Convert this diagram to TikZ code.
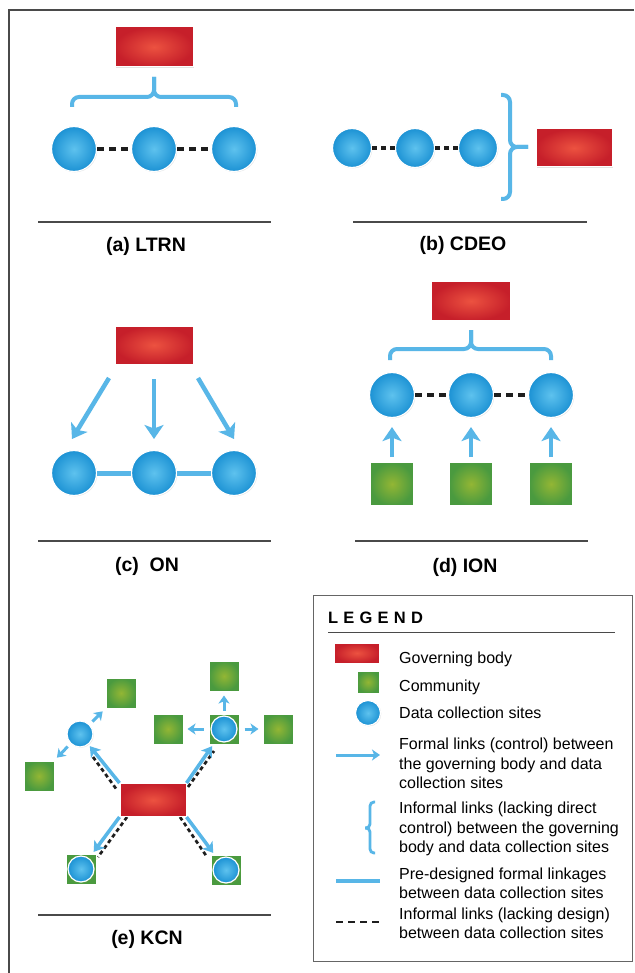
\documentclass[tikz,border=0pt]{standalone}
\usepackage{fontspec}
\setmainfont{Liberation Sans}
\usetikzlibrary{arrows.meta,shadows,calc}
\definecolor{redc}{HTML}{EC5240}
\definecolor{rede}{HTML}{C61F2A}
\definecolor{bluec}{HTML}{5EC2EE}
\definecolor{bluee}{HTML}{1C92D4}
\definecolor{greenc}{HTML}{93B634}
\definecolor{greene}{HTML}{4A9A3F}
\definecolor{linkblue}{HTML}{58B6E7}
\definecolor{rulegray}{HTML}{4A4A4A}
\definecolor{dashblack}{HTML}{1E1E1E}
\tikzset{
  shd/.style={drop shadow={opacity=0.22, shadow xshift=0.8pt, shadow yshift=-0.8pt}},
  gov/.style={rectangle, inner sep=0pt, draw=white, line width=1pt, shading=radial,
              inner color=redc, outer color=rede, shd},
  site/.style={circle, inner sep=0pt, draw=white, line width=1.2pt, shading=radial,
              inner color=bluec, outer color=bluee, minimum size=45pt, shd},
  comm/.style={rectangle, inner sep=0pt, draw=white, line width=1pt, shading=radial,
              inner color=greenc, outer color=greene, minimum size=43pt, shd},
  brc/.style={draw=linkblue, line width=4pt, rounded corners=7pt},
  idash/.style={draw=dashblack, line width=4pt, dash pattern=on 7pt off 5pt},
  idashs/.style={draw=dashblack, line width=3.5pt, dash pattern=on 5pt off 4pt},
  idashe/.style={draw=dashblack, line width=2.7pt, dash pattern=on 4pt off 3pt},
  fline/.style={draw=linkblue, line width=5pt},
  farrow/.style={draw=linkblue, line width=4.5pt, -{Stealth[length=14pt, width=19pt, inset=3.5pt]}},
  marrow/.style={draw=linkblue, line width=3.5pt, -{Stealth[length=10pt, width=13pt, inset=2.5pt]}},
  sarrow/.style={draw=linkblue, line width=3pt, -{Stealth[length=8pt, width=11pt, inset=2.2pt]}},
  hrule/.style={draw=rulegray, line width=1.2pt},
  ttl/.style={anchor=base, inner sep=0pt, font={\fontsize{19.5}{22}\selectfont\bfseries}},
  lgtxt/.style={inner sep=0pt, align=left, font={\fontsize{16}{19.5}\selectfont}},
}
\begin{document}
\begin{tikzpicture}[x=1pt, y=-1pt]
\useasboundingbox (0,0) rectangle (634,973);
\fill[white] (0,0) rectangle (634,973);
% outer frame
\draw[draw=rulegray, line width=2pt] (9,973) -- (9,10) -- (634,10);

% ---------- (a) LTRN ----------
\node[gov, minimum width=78pt, minimum height=40pt] (ga) at (154,47) {};
\node[site] (a1) at (74,149) {};
\node[site] (a2) at (154,149) {};
\node[site] (a3) at (234,149) {};
\draw[idash] (a1) -- (a2);
\draw[idash] (a2) -- (a3);
\coordinate (abt) at (154,77);
\coordinate (abl) at (72,107);
\coordinate (abr) at (236,107);
\draw[brc] (abl) -- (72,97) -- (154,97) -- (abt);
\draw[brc] (abr) -- (236,97) -- (154,97) -- (abt);
\draw[hrule] (38,222) -- (271,222);
\node[ttl] (ta) at (146,252) {(a) LTRN};

% ---------- (b) CDEO ----------
\node[site, minimum size=39pt] (b1) at (352,148) {};
\node[site, minimum size=39pt] (b2) at (415,148) {};
\node[site, minimum size=39pt] (b3) at (478,148) {};
\draw[idashs] (b1) -- (b2);
\draw[idashs] (b2) -- (b3);
\node[gov, minimum width=76pt, minimum height=38pt] (gb) at (574,148) {};
\coordinate (bbt) at (501,95);
\coordinate (bbb) at (501,199);
\coordinate (bbtip) at (528,147);
\draw[brc] (bbt) -- (510,95) -- (510,147) -- (bbtip);
\draw[brc] (bbb) -- (510,199) -- (510,147) -- (bbtip);
\draw[hrule] (353,222) -- (587,222);
\node[ttl] (tb) at (463,251) {(b) CDEO};

% ---------- (c) ON ----------
\node[gov, minimum width=78pt, minimum height=38pt] (gc) at (154,345) {};
\node[site] (c1) at (74,473) {};
\node[site] (c2) at (154,473) {};
\node[site] (c3) at (234,473) {};
\draw[fline] (c1) -- (c2);
\draw[fline] (c2) -- (c3);
\coordinate (cs1) at (109,378);
\coordinate (ce1) at (72,439);
\coordinate (cs2) at (154,379);
\coordinate (ce2) at (154,439);
\coordinate (cs3) at (198,378);
\coordinate (ce3) at (234,439);
\draw[farrow] (cs1) -- (ce1);
\draw[farrow] (cs2) -- (ce2);
\draw[farrow] (cs3) -- (ce3);
\draw[hrule] (38,541) -- (271,541);
\node[ttl] (tc) at (147,571) {(c)\ \ ON};

% ---------- (d) ION ----------
\node[gov, minimum width=79pt, minimum height=39pt] (gd) at (471,301) {};
\node[site] (d1) at (392,395) {};
\node[site] (d2) at (471,395) {};
\node[site] (d3) at (551,395) {};
\draw[idash] (d1) -- (d2);
\draw[idash] (d2) -- (d3);
\coordinate (dbt) at (471,330);
\coordinate (dbl) at (390,360);
\coordinate (dbr) at (551,360);
\draw[brc] (dbl) -- (390,349) -- (471,349) -- (dbt);
\draw[brc] (dbr) -- (551,349) -- (471,349) -- (dbt);
\node[comm] (q1) at (392,484) {};
\node[comm] (q2) at (471,484) {};
\node[comm] (q3) at (551,484) {};
\draw[farrow, shorten <=5pt, shorten >=9pt] (q1) -- (d1);
\draw[farrow, shorten <=5pt, shorten >=9pt] (q2) -- (d2);
\draw[farrow, shorten <=5pt, shorten >=9pt] (q3) -- (d3);
\draw[hrule] (355,541) -- (588,541);
\node[ttl] (td) at (465,572) {(d) ION};

% ---------- (e) KCN ----------
\coordinate (eul1) at (93,757);  \coordinate (eul2) at (117,790);
\coordinate (eur1) at (188,787); \coordinate (eur2) at (214,751);
\coordinate (ell1) at (127,817); \coordinate (ell2) at (98,857);
\coordinate (elr1) at (180,817); \coordinate (elr2) at (207,857);
\draw[idashe] (eul1) -- (eul2);
\draw[idashe] (eur1) -- (eur2);
\draw[idashe] (ell1) -- (ell2);
\draw[idashe] (elr1) -- (elr2);
\node[gov, minimum width=66pt, minimum height=33pt] (ge) at (153,800) {};
\node[site, minimum size=26pt] (e1) at (80,734) {};
\node[comm, minimum size=30pt] (eq1) at (121,693) {};
\node[comm, minimum size=30pt] (eq2) at (39,776) {};
\node[comm, minimum size=30pt] (es2) at (224,729) {};
\node[site, minimum size=26pt] (es2c) at (224,729) {};
\node[comm, minimum size=30pt] (eq3) at (224,676) {};
\node[comm, minimum size=30pt] (eq4) at (168,729) {};
\node[comm, minimum size=30pt] (eq5) at (278,729) {};
\node[comm, minimum size=30pt] (es4) at (81,869) {};
\node[site, minimum size=26pt] (es4c) at (81,869) {};
\node[comm, minimum size=30pt] (es5) at (226,870) {};
\node[site, minimum size=26pt] (es5c) at (226,870) {};
\draw[marrow, shorten >=2pt] (ge.north west) -- (e1);
\draw[marrow, shorten >=2pt] (ge.north east) -- (es2);
\draw[marrow, shorten >=2pt] (ge.south west) -- (es4);
\draw[marrow, shorten >=2pt] (ge.south east) -- (es5);
\draw[sarrow, shorten <=4pt, shorten >=4pt] (e1) -- (eq1);
\draw[sarrow, shorten <=4pt, shorten >=4pt] (e1) -- (eq2);
\draw[sarrow, shorten <=3pt, shorten >=4pt] (es2) -- (eq3);
\draw[sarrow, shorten <=5pt, shorten >=4pt] (es2) -- (eq4);
\draw[sarrow, shorten <=5pt, shorten >=4pt] (es2) -- (eq5);
\draw[hrule] (38,915) -- (271,915);
\node[ttl] (te) at (147,944) {(e) KCN};

% ---------- Legend ----------
\draw[draw=rulegray!85, line width=1pt] (313,595) rectangle (632,961);
\node[anchor=base west, inner sep=0pt, font={\fontsize{16.5}{18}\selectfont\bfseries}] (lgt) at (328,623)
  {L\kern5.2pt E\kern5.2pt G\kern5.2pt E\kern5.2pt N\kern5.2pt D};
\draw[draw=rulegray, line width=1pt] (328,632) -- (615,632);
\node[gov, minimum width=45pt, minimum height=20pt] (lg1) at (357,653) {};
\node[comm, minimum size=22pt] (lg2) at (368,682) {};
\node[site, minimum size=25pt] (lg3) at (368,713) {};
\coordinate (la1) at (336,755); \coordinate (la2) at (380,755);
\draw[sarrow, line width=3pt] (la1) -- (la2);
\coordinate (lbt) at (375,802); \coordinate (lbb) at (375,853); \coordinate (lbtip) at (365,828);
\draw[draw=linkblue, line width=2.8pt, rounded corners=4pt] (lbt) -- (370,802) -- (370,828) -- (lbtip);
\draw[draw=linkblue, line width=2.8pt, rounded corners=4pt] (lbb) -- (370,853) -- (370,828) -- (lbtip);
\coordinate (ll1) at (336,881); \coordinate (ll2) at (380,881);
\draw[fline, line width=4pt] (ll1) -- (ll2);
\coordinate (ld1) at (336,922); \coordinate (ld2) at (380,922);
\draw[draw=dashblack, line width=2.5pt, dash pattern=on 7pt off 5pt] (ld1) -- (ld2);

\node[lgtxt, anchor=base west] (lx1) at (399,663) {Governing body};
\node[lgtxt, anchor=base west] (lx2) at (399,691) {Community};
\node[lgtxt, anchor=base west] (lx3) at (399,718) {Data collection sites};
\node[lgtxt, anchor=west] (lx4) at (399,763.5) {Formal links (control) between\\the governing body and data\\collection sites};
\node[lgtxt, anchor=west] (lx5) at (399,829) {Informal links (lacking direct\\control) between the governing\\body and data collection sites};
\node[lgtxt, anchor=west] (lx6) at (399,883.5) {Pre-designed formal linkages\\between data collection sites};
\node[lgtxt, anchor=west] (lx7) at (399,923.5) {Informal links (lacking design)\\between data collection sites};
\end{tikzpicture}
\end{document}
